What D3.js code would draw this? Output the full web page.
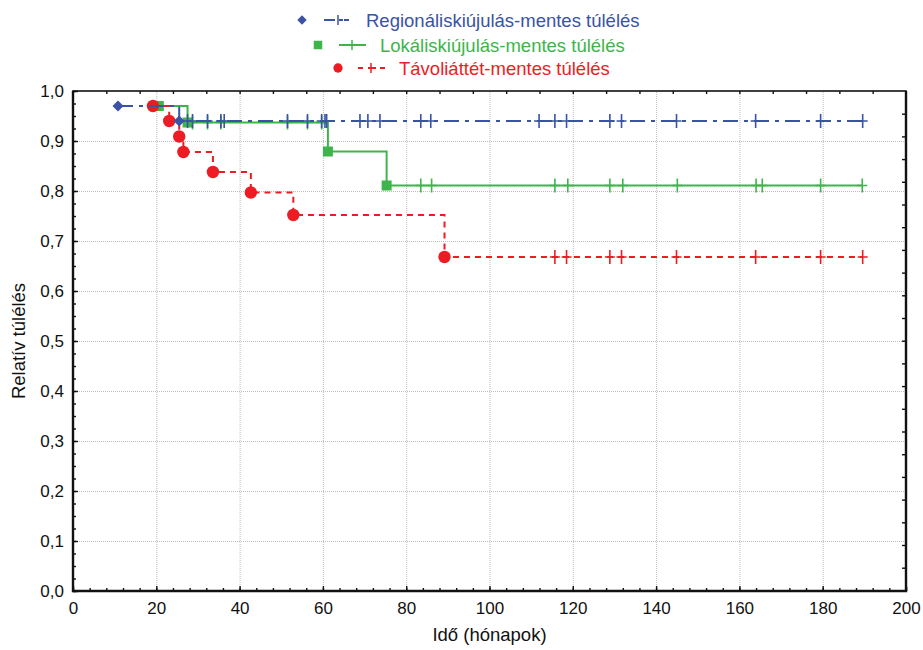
<!DOCTYPE html>
<html>
<head>
<meta charset="utf-8">
<script src="https://cdn.jsdelivr.net/npm/d3@7.8.5/dist/d3.min.js"></script>
<style>
  body { margin: 0; background: #fff; }
  svg { display: block; font-family: Arial, "Liberation Sans", sans-serif; }
</style>
</head>
<body>
<svg id="chart" width="923" height="650"></svg>
<script>
// Kaplan-Meier style curves
const seriesNames = ['Regionáliskiújulás-mentes túlélés', 'Lokáliskiújulás-mentes túlélés', 'Távoliáttét-mentes túlélés'];
const seriesColors = ['#3a53a4', '#3db54a', '#ed1c24'];

const regEventTimes = [10.8, 25.5];
const regEventSurv = [0.97, 0.94];
const regCensored = [27.5, 28.7, 32.3, 35.5, 36.3, 51.5, 56.3, 59.7, 60.5, 60.9, 68.9, 70.8, 73.7, 83.5, 85.9,
  111.9, 115.7, 118.5, 128.9, 131.7, 144.9, 163.9, 179.5, 189.6];

const lokEventTimes = [20.6, 27.5, 61.2, 75.3];
const lokEventSurv = [0.97, 0.937, 0.879, 0.811];
const lokCensored = [28.7, 32.3, 35.5, 51.5, 56.3, 59.7, 83.5, 86.1, 115.7, 118.8, 128.9, 132, 145.1, 164, 165.5, 179.5, 189.5];

const tavEventTimes = [19.2, 23.1, 25.5, 26.5, 33.6, 42.7, 52.9, 89.2];
const tavEventSurv = [0.97, 0.94, 0.909, 0.878, 0.838, 0.797, 0.752, 0.668];
const tavCensored = [115.7, 118.5, 128.9, 131.7, 144.9, 163.9, 179.5, 189.6];

const xTicks = [0, 20, 40, 60, 80, 100, 120, 140, 160, 180, 200];
const yTicks = [0, 0.1, 0.2, 0.3, 0.4, 0.5, 0.6, 0.7, 0.8, 0.9, 1.0];
const xLabel = 'Idő (hónapok)';
const yLabel = 'Relatív túlélés';

const series = [
  { name: seriesNames[0], color: seriesColors[0], times: regEventTimes, surv: regEventSurv, cens: regCensored, dash: '15,6,4,6', marker: 'diamond' },
  { name: seriesNames[1], color: seriesColors[1], times: lokEventTimes, surv: lokEventSurv, cens: lokCensored, dash: null, marker: 'square' },
  { name: seriesNames[2], color: seriesColors[2], times: tavEventTimes, surv: tavEventSurv, cens: tavCensored, dash: '6,5', marker: 'circle' }
];

const svg = d3.select('#chart');
const margin = { top: 91, right: 17, bottom: 59, left: 73 };
const W = 923, H = 650;

const x = d3.scaleLinear().domain([0, 200]).range([margin.left, W - margin.right]);
const y = d3.scaleLinear().domain([0, 1]).range([H - margin.bottom, margin.top]);

const comma = d3.formatLocale({ decimal: ',', thousands: ' ', grouping: [3], currency: ['', ''] }).format('.1f');

// grid
svg.append('g')
  .attr('transform', `translate(0,${y(0)})`)
  .call(d3.axisBottom(x).tickValues(xTicks.slice(1, -1)).tickSize(-(y(0) - y(1))).tickFormat(''))
  .call(g => g.select('.domain').remove())
  .call(g => g.selectAll('line').attr('stroke', '#bdbdbd').attr('stroke-dasharray', '1,1'));

svg.append('g')
  .attr('transform', `translate(${x(0)},0)`)
  .call(d3.axisLeft(y).tickValues(yTicks.slice(1, -1)).tickSize(-(x(200) - x(0))).tickFormat(''))
  .call(g => g.select('.domain').remove())
  .call(g => g.selectAll('line').attr('stroke', '#bdbdbd').attr('stroke-dasharray', '1,1'));

// step path for one series
function stepPoints(s) {
  const pts = [[s.times[0], s.surv[0]]];
  for (let i = 1; i < s.times.length; i++) {
    pts.push([s.times[i], s.surv[i - 1]]);
    pts.push([s.times[i], s.surv[i]]);
  }
  pts.push([d3.max(s.cens), s.surv[s.surv.length - 1]]);
  return pts;
}

function survAt(s, t) {
  let v = s.surv[0];
  s.times.forEach((tt, i) => { if (tt <= t) v = s.surv[i]; });
  return v;
}

const line = d3.line().x(d => x(d[0])).y(d => y(d[1]));

function drawMarker(g, type, cx, cy, color, k = 1) {
  if (type === 'diamond') {
    const r = 5.5 * k;
    g.append('path').attr('d', `M${cx},${cy - r}L${cx + r},${cy}L${cx},${cy + r}L${cx - r},${cy}Z`).attr('fill', color);
  } else if (type === 'square') {
    const h = 5 * k;
    g.append('rect').attr('x', cx - h).attr('y', cy - h).attr('width', 2 * h).attr('height', 2 * h).attr('fill', color);
  } else {
    g.append('circle').attr('cx', cx).attr('cy', cy).attr('r', 6.2 * k).attr('fill', color);
  }
}

const plot = svg.append('g');
// draw green first, then red, then blue on top
[1, 2, 0].forEach(idx => {
  const s = series[idx];
  const g = plot.append('g');
  g.append('path')
    .attr('d', line(stepPoints(s)))
    .attr('fill', 'none')
    .attr('stroke', s.color)
    .attr('stroke-width', 2)
    .attr('stroke-dasharray', s.dash);

  g.selectAll('.cens')
    .data(s.cens)
    .enter()
    .append('path')
    .attr('d', t => {
      const cx = x(t), cy = y(survAt(s, t));
      return `M${cx},${cy - 7}V${cy + 7}M${cx - 5},${cy}H${cx + 5}`;
    })
    .attr('stroke', s.color)
    .attr('stroke-width', 1.6);

  s.times.forEach((t, i) => drawMarker(g, s.marker, x(t), y(s.surv[i]), s.color));
});

// axes
const tickFont = g => g.selectAll('text').attr('font-size', 17).attr('fill', '#111').attr('font-family', 'Arial, "Liberation Sans", sans-serif');
const bottom = svg.append('g').attr('transform', `translate(0,${y(0)})`);
bottom.call(d3.axisBottom(x).tickValues(d3.range(0, 201, 4)).tickSize(-3).tickFormat(''))
  .call(g => g.select('.domain').remove());
bottom.append('g').call(d3.axisBottom(x).tickValues(xTicks).tickSize(-5).tickPadding(11).tickFormat(d3.format('d')))
  .call(g => g.select('.domain').remove())
  .call(tickFont);

const left = svg.append('g').attr('transform', `translate(${x(0)},0)`);
left.call(d3.axisLeft(y).tickValues(d3.range(0, 1.001, 0.025)).tickSize(-3).tickFormat(''))
  .call(g => g.select('.domain').remove());
left.append('g').call(d3.axisLeft(y).tickValues(yTicks).tickSize(-5).tickPadding(9).tickFormat(comma))
  .call(g => g.select('.domain').remove())
  .call(tickFont);

svg.append('g').attr('transform', `translate(0,${y(1)})`)
  .call(d3.axisTop(x).tickValues(d3.range(8, 200, 8)).tickSize(-3).tickFormat(''))
  .call(g => g.select('.domain').remove());

svg.append('g').attr('transform', `translate(${x(200)},0)`)
  .call(d3.axisRight(y).tickValues(d3.range(1 - 0.0454, 0, -0.0454)).tickSize(-4).tickFormat(''))
  .call(g => g.select('.domain').remove());

svg.selectAll('.tick line').filter(function () { return !this.getAttribute('stroke-dasharray'); })
  .attr('stroke', '#111').attr('stroke-width', 1.4);

// frame
svg.append('rect')
  .attr('x', x(0)).attr('y', y(1))
  .attr('width', x(200) - x(0)).attr('height', y(0) - y(1))
  .attr('fill', 'none').attr('stroke', '#111').attr('stroke-width', 1.6);
svg.append('path')
  .attr('d', `M${x(0)},${y(1)}V${y(0)}H${x(200)}V${y(1)}`)
  .attr('fill', 'none').attr('stroke', '#111').attr('stroke-width', 2.4);

// axis titles
svg.append('text').attr('x', (x(0) + x(200)) / 2).attr('y', 641).attr('text-anchor', 'middle')
  .attr('font-size', 18.5).attr('fill', '#111').text(xLabel);
svg.append('text').attr('transform', `translate(25,${(y(0) + y(1)) / 2}) rotate(-90)`).attr('text-anchor', 'middle')
  .attr('font-size', 18.5).attr('fill', '#111').text(yLabel);

// legend
const legendRows = [
  { markerX: 302, lineX: 324, textX: 366, y: 21 },
  { markerX: 318, lineX: 339, textX: 380, y: 46 },
  { markerX: 338, lineX: 358, textX: 399, y: 69 }
];
series.forEach((s, i) => {
  const r = legendRows[i];
  const g = svg.append('g');
  const cy = r.y - 1;
  if (s.marker === 'diamond') drawMarker(g, 'diamond', r.markerX, cy, s.color, 0.85);
  else if (s.marker === 'square') drawMarker(g, 'square', r.markerX, cy, s.color, 0.85);
  else drawMarker(g, 'circle', r.markerX, cy, s.color, 0.75);
  let seg;
  if (i === 0) seg = `M${r.lineX},${cy}h11M${r.lineX + 15},${cy}h4M${r.lineX + 20},${cy}h5`;
  else if (i === 1) seg = `M${r.lineX},${cy}h27`;
  else seg = `M${r.lineX},${cy}h5M${r.lineX + 10},${cy}h8M${r.lineX + 22},${cy}h5`;
  g.append('path').attr('d', seg).attr('stroke', s.color).attr('stroke-width', 2).attr('fill', 'none');
  const px = r.lineX + (i === 0 ? 14 : 13);
  g.append('path').attr('d', `M${px},${cy - 5}V${cy + 5}`).attr('stroke', s.color).attr('stroke-width', 1.5);
  g.append('text').attr('x', r.textX).attr('y', r.y + 6).attr('font-size', 18.5).attr('fill', s.color).text(s.name);
});
</script>
</body>
</html>
